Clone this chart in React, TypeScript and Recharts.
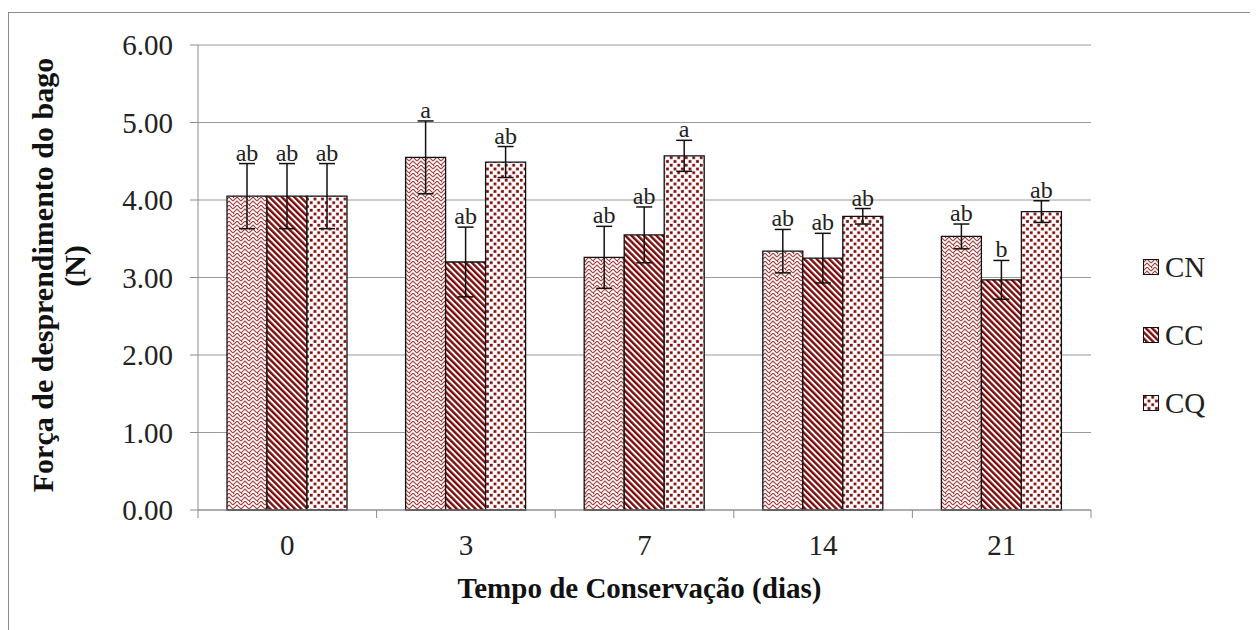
import React from 'react';
import { BarChart, Bar, XAxis, YAxis, CartesianGrid, ErrorBar, LabelList } from 'recharts';

const categories = ['0', '3', '7', '14', '21'];
const cnValues = [4.05, 4.55, 3.26, 3.34, 3.53];
const ccValues = [4.05, 3.2, 3.55, 3.25, 2.97];
const cqValues = [4.05, 4.49, 4.57, 3.79, 3.85];
const cnErrors = [0.42, 0.47, 0.4, 0.28, 0.16];
const ccErrors = [0.42, 0.45, 0.36, 0.32, 0.25];
const cqErrors = [0.42, 0.2, 0.2, 0.1, 0.14];
const cnLetters = ['ab', 'a', 'ab', 'ab', 'ab'];
const ccLetters = ['ab', 'ab', 'ab', 'ab', 'b'];
const cqLetters = ['ab', 'ab', 'a', 'ab', 'ab'];
const yTicks = [0, 1, 2, 3, 4, 5, 6];
const seriesNames = ['CN', 'CC', 'CQ'];

const data = categories.map((c, i) => ({
  cat: c,
  CN: cnValues[i], CNe: cnErrors[i], CNl: cnLetters[i],
  CC: ccValues[i], CCe: ccErrors[i], CCl: ccLetters[i],
  CQ: cqValues[i], CQe: cqErrors[i], CQl: cqLetters[i],
}));

const FONT = '"Liberation Serif", "Times New Roman", serif';
const RED = '#7d0a0a';

const patternIds: Record<string, string> = { CN: 'patCN', CC: 'patCC', CQ: 'patCQ' };

const Patterns = () => (
  <svg width={0} height={0} style={{ position: 'absolute' }}>
    <defs>
      <pattern id="patCN" width={8} height={8} patternUnits="userSpaceOnUse">
        <rect width={8} height={8} fill="#fff" />
        <polyline points="0,4 4,0 8,4" fill="none" stroke="#a04040" strokeWidth={1.1} />
        <polyline points="0,8 4,4 8,8" fill="none" stroke="#a04040" strokeWidth={1.1} />
        <rect x={0} y={0} width={1.2} height={1.2} fill="#a04040" />
      </pattern>
      <pattern id="patCC" width={4.4} height={4.4} patternUnits="userSpaceOnUse" patternTransform="rotate(-45)">
        <rect width={4.4} height={4.4} fill="#fff" />
        <rect width={2.4} height={4.4} fill={RED} />
      </pattern>
      <pattern id="patCQ" width={7.5} height={7.5} patternUnits="userSpaceOnUse">
        <rect width={7.5} height={7.5} fill="#fff" />
        <rect x={0.8} y={0.8} width={2.8} height={2.8} fill={RED} />
        <rect x={4.55} y={4.55} width={2.8} height={2.8} fill={RED} />
      </pattern>
    </defs>
  </svg>
);

const XTick = (props: any) => {
  const { x, y, payload, index } = props;
  const half = payload && payload.offset ? payload.offset : 0;
  return (
    <g>
      <line x1={x - half} y1={y} x2={x - half} y2={y + 8} stroke="#8c8c8c" strokeWidth={1} />
      {index === categories.length - 1 && (
        <line x1={x + half} y1={y} x2={x + half} y2={y + 8} stroke="#8c8c8c" strokeWidth={1} />
      )}
      <text x={x} y={y + 45} textAnchor="middle" fill="#222" fontSize={29} fontFamily={FONT}>
        {payload.value}
      </text>
    </g>
  );
};

const makeLetterLabel = (key: string) => (props: any) => {
  const { x, y, width, height, index } = props;
  const row: any = data[index];
  if (!row) return null;
  const v = row[key];
  const e = row[key + 'e'];
  const errPx = v ? (e / v) * height : 0;
  return (
    <text x={x + width / 2} y={y - errPx - 3} textAnchor="middle" fill="#222" fontSize={24} fontFamily={FONT}>
      {row[key + 'l']}
    </text>
  );
};

const YTitle = () => (
  <g>
    <text x={33} y={262} transform="rotate(-90, 33, 262)" textAnchor="middle" dominantBaseline="central"
      fontSize={30} fontWeight="bold" fontFamily={FONT} fill="#111">
      Força de desprendimento  do bago
    </text>
    <text x={65} y={253} transform="rotate(-90, 65, 253)" textAnchor="middle" dominantBaseline="central"
      fontSize={30} fontWeight="bold" fontFamily={FONT} fill="#111">
      (N)
    </text>
  </g>
);

const XTitle = (props: any) => {
  const vb = props.viewBox || { x: 189, width: 893 };
  return (
    <text x={vb.x + vb.width / 2 - 5} y={575} textAnchor="middle" dominantBaseline="central"
      fontSize={29} fontWeight="bold" fontFamily={FONT} fill="#111">
      Tempo de Conservação (dias)
    </text>
  );
};

export default function App() {
  return (
    <div style={{ position: 'relative', top: 4, width: 1250, height: 640, borderTop: '1px solid #8c8c8c', borderLeft: '1px solid #8c8c8c', boxSizing: 'border-box' }}>
      <style>{`html, body { overflow: hidden; }`}</style>
      <Patterns />
      <BarChart width={1240} height={598} data={data} margin={{ top: 32, right: 158, left: 0, bottom: 41 }} barGap={0} barSize={40}>
        <CartesianGrid horizontal vertical={false} stroke="#9a9a9a" strokeWidth={1} />
        <XAxis dataKey="cat" height={60} tickLine={false} tickSize={0} tickMargin={0} axisLine={{ stroke: '#8c8c8c' }} tick={<XTick />} interval={0} label={<XTitle />} />
        <YAxis width={189} domain={[0, 6]} ticks={yTicks} interval={0} tickFormatter={(v: number) => v.toFixed(2)}
          tickSize={8} tickMargin={17} axisLine={{ stroke: '#8c8c8c' }} tickLine={{ stroke: '#8c8c8c' }}
          tick={{ fill: '#222', fontSize: 29, fontFamily: FONT }} label={<YTitle />} />
        {seriesNames.map((s) => (
          <Bar key={s} dataKey={s} fill={`url(#${patternIds[s]})`} stroke="#111" strokeWidth={1.3} isAnimationActive={false}>
            <ErrorBar dataKey={s + 'e'} width={8} stroke="#111" strokeWidth={1.5} direction="y" />
            <LabelList dataKey={s + 'l'} content={makeLetterLabel(s)} />
          </Bar>
        ))}
      </BarChart>
      <div style={{ position: 'absolute', left: 1134, top: 220, fontFamily: FONT, fontSize: 29, color: '#222' }}>
        {seriesNames.map((s) => (
          <div key={s} style={{ height: 68, display: 'flex', alignItems: 'center' }}>
            <svg width={17} height={17} style={{ marginRight: 5 }}>
              <rect x={0.5} y={0.5} width={15} height={15} fill={`url(#${patternIds[s]})`} stroke="#111" strokeWidth={1} />
            </svg>
            <span>{s}</span>
          </div>
        ))}
      </div>
    </div>
  );
}
